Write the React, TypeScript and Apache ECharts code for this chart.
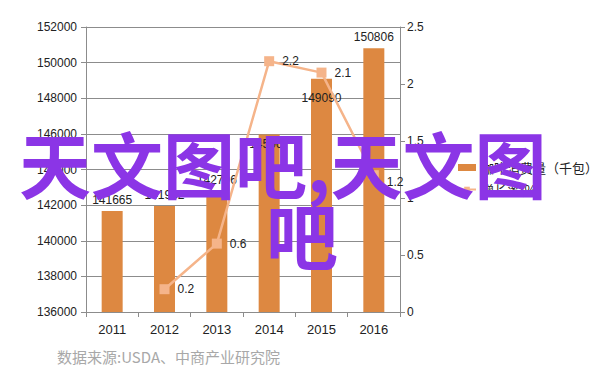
import React, { useEffect, useRef } from "react";
import * as echarts from "echarts";

const years = ["2011", "2012", "2013", "2014", "2015", "2016"];
const consumption = [141665, 141952, 142796, 145967, 149090, 150806];
const growth: (number | string)[] = ["-", 0.2, 0.6, 2.2, 2.1, 1.2];
const leftTicks = { min: 136000, max: 152000, interval: 2000 };
const rightTicks = { min: 0, max: 2.5, interval: 0.5 };
const seriesNames = ["咖啡消费量（千包）", "增长率(%)"];
const sourceNote = "数据来源:USDA、中商产业研究院";
const watermark1 = "天文图吧,天文图";
const watermark2 = "吧";

const BAR = "#DD8841";
const LINE = "#F5B48A";
const AXIS = "#8C8C8C";
const FONT = "Liberation Sans, Arial, sans-serif";

export default function App() {
  const ref = useRef<HTMLDivElement>(null);
  useEffect(() => {
    document.body.style.margin = "0";
    const chart = echarts.init(ref.current!, null, { renderer: "svg" });
    const barData = consumption.map((v, i) => {
      if (i === 3) return { value: v, label: { position: "insideTop", distance: 4 } };
      if (i === 4) return { value: v, label: { position: "insideTop", distance: 13 } };
      return v;
    });
    const lineData = growth.map((v, i) => (i === 5 ? { value: v, label: { offset: [0, 7] } } : v));
    chart.setOption({
      animation: false,
      backgroundColor: "#ffffff",
      textStyle: { fontFamily: FONT },
      grid: { left: 86, right: 202, top: 27, bottom: 72, containLabel: false },
      legend: {
        orient: "vertical",
        left: 452,
        top: 156,
        itemGap: 9,
        itemWidth: 18,
        itemHeight: 7,
        textStyle: { fontSize: 13, color: "#222", fontFamily: "Noto Sans CJK SC, sans-serif" },
        data: [
          { name: seriesNames[0], icon: "rect" },
          { name: seriesNames[1] },
        ],
      },
      xAxis: {
        type: "category",
        data: years,
        axisLine: { lineStyle: { color: AXIS, width: 1 } },
        axisTick: { show: true, length: 5, lineStyle: { color: AXIS } },
        axisLabel: { color: "#222", fontSize: 13, margin: 11, fontFamily: FONT },
      },
      yAxis: [
        {
          type: "value",
          min: leftTicks.min,
          max: leftTicks.max,
          interval: leftTicks.interval,
          axisLine: { show: true, lineStyle: { color: AXIS } },
          axisTick: { show: true, length: 5, lineStyle: { color: AXIS } },
          axisLabel: { color: "#222", fontSize: 12, margin: 9, fontFamily: FONT, formatter: (v: number) => String(v) },
          splitLine: { show: true, lineStyle: { color: AXIS, width: 1 } },
        },
        {
          type: "value",
          min: rightTicks.min,
          max: rightTicks.max,
          interval: rightTicks.interval,
          position: "right",
          axisLine: { show: true, lineStyle: { color: AXIS } },
          axisTick: { show: true, length: 5, lineStyle: { color: AXIS } },
          axisLabel: { color: "#222", fontSize: 12, margin: 7, fontFamily: FONT, formatter: (v: number) => String(v) },
          splitLine: { show: false },
        },
      ],
      series: [
        {
          name: seriesNames[0],
          type: "bar",
          yAxisIndex: 0,
          barWidth: 21,
          data: barData,
          itemStyle: { color: BAR },
          label: { show: true, position: "top", distance: 5, color: "#222", fontSize: 12, fontFamily: FONT },
          z: 2,
        },
        {
          name: seriesNames[1],
          type: "line",
          yAxisIndex: 1,
          data: lineData,
          symbol: "rect",
          symbolSize: 10,
          lineStyle: { color: LINE, width: 2.5 },
          itemStyle: { color: LINE },
          label: { show: true, position: "right", distance: 8, color: "#222", fontSize: 12, fontFamily: FONT },
          z: 3,
        },
      ],
      graphic: [
        {
          type: "text",
          left: 57,
          top: 349,
          style: { text: sourceNote, fill: "#A8A8A8", fontSize: 15, fontFamily: "Noto Sans CJK SC, sans-serif" },
        },
        {
          type: "text",
          left: 19,
          top: 125,
          z: 100,
          style: { text: watermark1, fill: "#8B35E6", fontSize: 72, fontWeight: "bold", fontFamily: "Noto Sans CJK SC, sans-serif" },
        },
        {
          type: "text",
          left: 266,
          top: 196,
          z: 100,
          style: { text: watermark2, fill: "#8B35E6", fontSize: 72, fontWeight: "bold", fontFamily: "Noto Sans CJK SC, sans-serif" },
        },
      ],
    });
    return () => chart.dispose();
  }, []);
  return <div ref={ref} style={{ width: 602, height: 384 }} />;
}
